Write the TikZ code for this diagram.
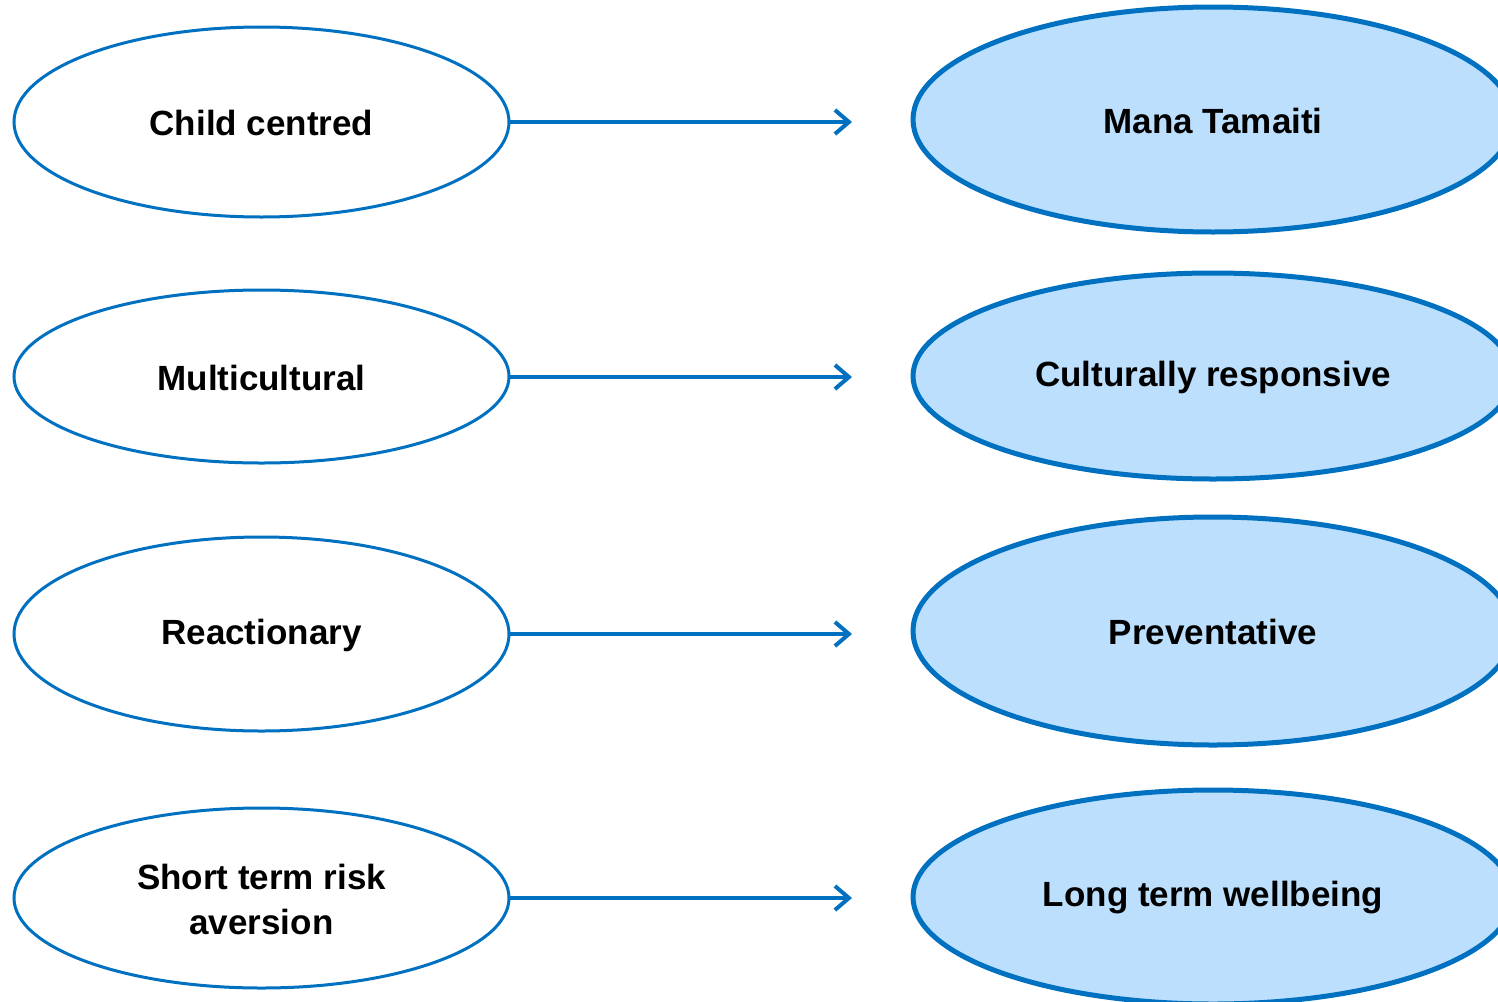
\documentclass[tikz,border=0pt]{standalone}
\usepackage{fontspec}
\setmainfont{Liberation Sans}
\usetikzlibrary{arrows.meta}
\definecolor{edgeblue}{HTML}{0070C0}
\definecolor{fillblue}{HTML}{BBDFFD}
\begin{document}
\begin{tikzpicture}[x=1pt,y=-1pt,
  lefte/.style={draw=edgeblue, line width=3pt, fill=white},
  righte/.style={draw=edgeblue, line width=5pt, fill=fillblue},
  lbl/.style={font=\fontsize{35}{45}\selectfont\bfseries, align=center, text=black, yshift=-1pt},
  conn/.style={draw=edgeblue, line width=3.5pt, -{Straight Barb[length=14pt,width=24pt,line width=4pt]}}]
\useasboundingbox (0,0) rectangle (1498,1001);
\clip (0,0) rectangle (1498,1001);
% left ellipses
\draw[lefte] (261.5,122) ellipse [x radius=247.5, y radius=95];
\draw[lefte] (261.5,376.5) ellipse [x radius=247.5, y radius=86.5];
\draw[lefte] (261.5,634) ellipse [x radius=247.5, y radius=97];
\draw[lefte] (261.5,898) ellipse [x radius=247.5, y radius=90];
% right ellipses
\draw[righte] (1213,119.5) ellipse [x radius=300, y radius=112.5];
\draw[righte] (1213,376) ellipse [x radius=300, y radius=103];
\draw[righte] (1213,631) ellipse [x radius=300, y radius=114];
\draw[righte] (1213,897) ellipse [x radius=300, y radius=107];
% labels
\node[lbl] (l1) at (261.5,122) {Child centred};
\node[lbl] (l2) at (261.5,376.5) {Multicultural};
\node[lbl] (l3) at (261.5,634) {Reactionary};
\node[lbl] (l4) at (261.5,898) {Short term risk\\aversion};
\node[lbl] (r1) at (1213,119.5) {Mana Tamaiti};
\node[lbl] (r2) at (1213,376) {Culturally responsive};
\node[lbl] (r3) at (1213,631) {Preventative};
\node[lbl] (r4) at (1213,897) {Long term wellbeing};
% connector anchors
\coordinate (a1s) at (509,122); \coordinate (a1e) at (852,122);
\coordinate (a2s) at (509,377); \coordinate (a2e) at (852,377);
\coordinate (a3s) at (509,634); \coordinate (a3e) at (852,634);
\coordinate (a4s) at (509,898); \coordinate (a4e) at (852,898);
\draw[conn] (a1s) -- (a1e);
\draw[conn] (a2s) -- (a2e);
\draw[conn] (a3s) -- (a3e);
\draw[conn] (a4s) -- (a4e);
\end{tikzpicture}
\end{document}
